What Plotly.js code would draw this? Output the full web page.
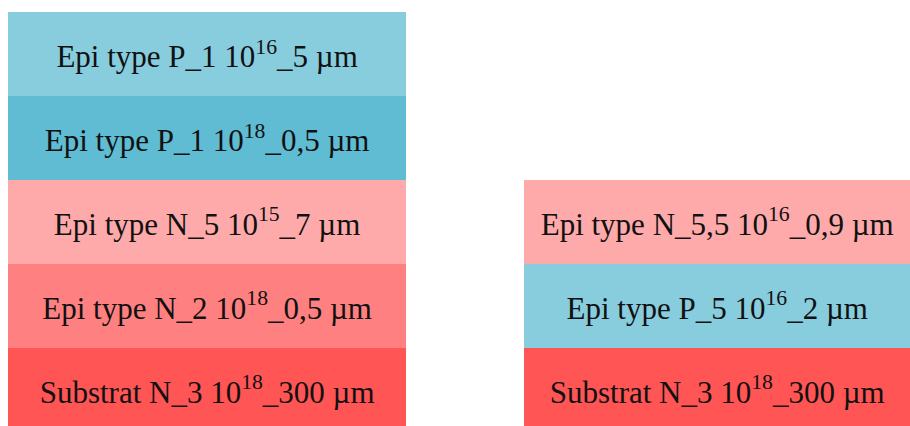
<!DOCTYPE html>
<html>
<head>
<meta charset="utf-8">
<script src="https://cdn.plot.ly/plotly-3.0.1.min.js"></script>
<style>html,body{margin:0;padding:0;background:#fff;}#chart{width:910px;height:426px;}</style>
</head>
<body>
<div id="chart"></div>
<script>
// Stacks (categories)
const stacks = ["Structure A", "Structure B"];

// Layers listed bottom to top, schematic (equal drawn thickness)
const leftLabels = [
  "Substrat N_3 10<sup>18</sup>_300 µm",
  "Epi type N_2 10<sup>18</sup>_0,5 µm",
  "Epi type N_5 10<sup>15</sup>_7 µm",
  "Epi type P_1 10<sup>18</sup>_0,5 µm",
  "Epi type P_1 10<sup>16</sup>_5 µm"
];
const leftHeights = [1, 1, 1, 1, 1];

const rightLabels = [
  "Substrat N_3 10<sup>18</sup>_300 µm",
  "Epi type P_5 10<sup>16</sup>_2 µm",
  "Epi type N_5,5 10<sup>16</sup>_0,9 µm"
];
const rightHeights = [1, 1, 1];

// Styles
const leftColors = ["#FF5555", "#FF8080", "#FFAAAA", "#5FBCD3", "#87CDDE"];
const rightColors = ["#FF5555", "#87CDDE", "#FFAAAA"];
const leftWidth = 0.78, rightWidth = 0.757;

function layerTrace(stack, label, h, color, w) {
  return {
    type: "bar",
    x: [stack],
    y: [h],
    width: [w],
    text: [label],
    textposition: "inside",
    insidetextanchor: "middle",
    textangle: 0,
    constraintext: "none",
    textfont: {family: "Liberation Serif, Times New Roman, serif", size: 31, color: "#111"},
    marker: {color: color, line: {width: 0}},
    hoverinfo: "skip",
    showlegend: false
  };
}

const traces = [];
leftLabels.forEach((l, i) => traces.push(layerTrace(stacks[0], l, leftHeights[i], leftColors[i], leftWidth)));
rightLabels.forEach((l, i) => traces.push(layerTrace(stacks[1], l, rightHeights[i], rightColors[i], rightWidth)));

const layout = {
  width: 910, height: 426,
  margin: {l: 0, r: 0, t: 0, b: 0},
  paper_bgcolor: "#fff", plot_bgcolor: "#fff",
  barmode: "stack",
  bargap: 0,
  showlegend: false,
  uniformtext: {mode: "show", minsize: 31},
  xaxis: {type: "category", range: [-0.406, 1.378], visible: false, fixedrange: true},
  yaxis: {range: [0.0714, 5.143], visible: false, fixedrange: true}
};

Plotly.newPlot("chart", traces, layout, {displayModeBar: false, staticPlot: true});
</script>
</body>
</html>
